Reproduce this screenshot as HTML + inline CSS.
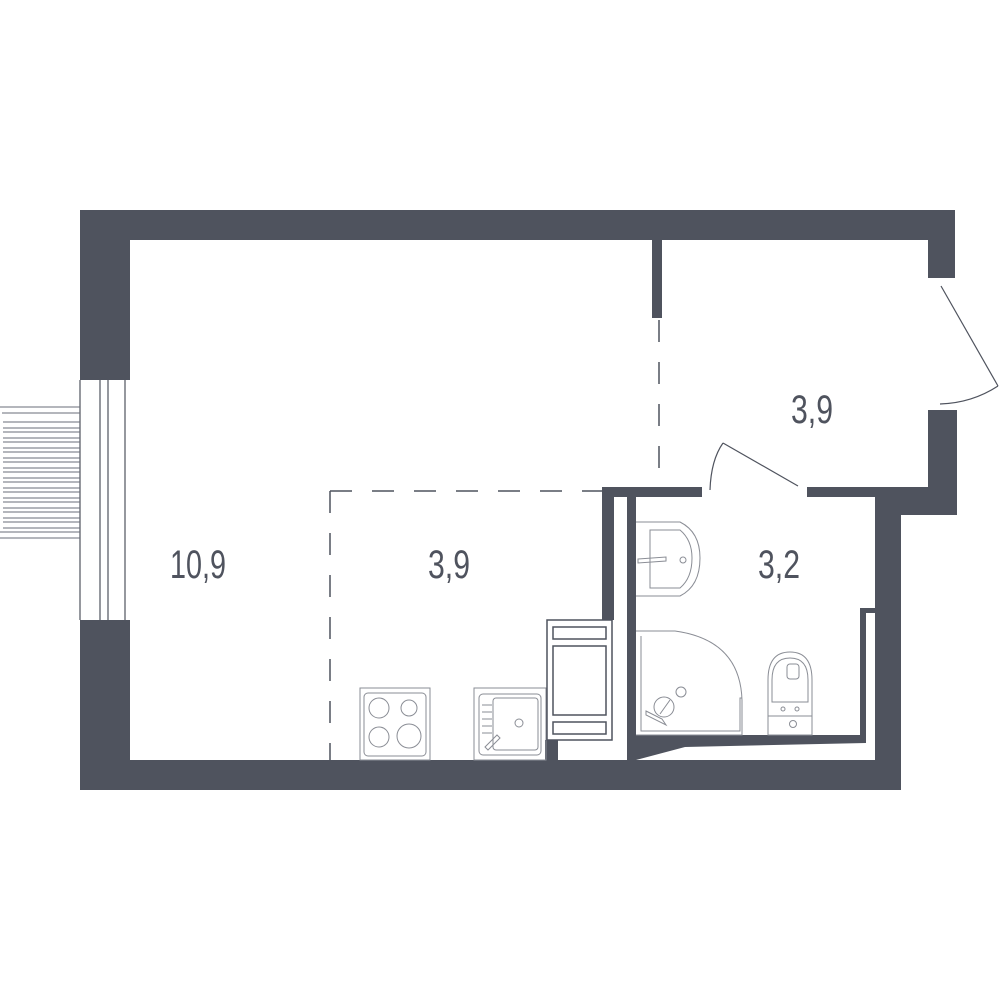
<!DOCTYPE html>
<html><head><meta charset="utf-8"><style>html,body{margin:0;padding:0;background:#fff}svg{display:block}</style></head>
<body>
<svg width="1000" height="1000" viewBox="0 0 1000 1000" xmlns="http://www.w3.org/2000/svg">
<g fill="#4f535e">
<rect x="80" y="210" width="875" height="30"/>
<rect x="80" y="210" width="50" height="170"/>
<rect x="80" y="620" width="50" height="170"/>
<rect x="80" y="760" width="821" height="30"/>
<rect x="928" y="210" width="27" height="68"/>
<rect x="928" y="410" width="29" height="105"/>
<rect x="875" y="487" width="82" height="28"/>
<rect x="875" y="487" width="26" height="303"/>
<rect x="652" y="240" width="10" height="78"/>
<rect x="602" y="487" width="100" height="10"/>
<rect x="807" y="487" width="68" height="10"/>
<rect x="602" y="487" width="12" height="133"/>
<rect x="627" y="497" width="9" height="263"/>
<rect x="860" y="608" width="15" height="5"/>
<rect x="860" y="608" width="6" height="135"/>
<rect x="545" y="740" width="13" height="20"/>
<polygon points="627,760 636,760 685,747 866,743 866,735 627,735"/>
</g>
<g fill="none" stroke="#4f535e" stroke-width="1.2">
<line x1="80" y1="380" x2="80" y2="620"/>
<line x1="100" y1="380" x2="100" y2="620"/>
<line x1="108" y1="380" x2="108" y2="620"/>
<line x1="125" y1="380" x2="125" y2="620"/>
</g>
<g fill="none" stroke="#6a6e78" stroke-width="1">
<path d="M80 407H0M80 413H2M80 422H3M80 428H3M80 432H3M80 438H3M80 442H3M80 448H3M80 452H3M80 458H3M80 462H3M80 468H3M80 472H3M80 478H3M80 482H3M80 488H3M80 492H3M80 498H3M80 502H3M80 508H3M80 512H3M80 518H3M80 522H3M80 528H3M80 532H0M80 538H0"/>
</g>
<g stroke="#4f535e" stroke-width="1.5" stroke-dasharray="22,20" fill="none">
<line x1="659" y1="320" x2="659" y2="480"/>
<line x1="330" y1="491" x2="602" y2="491"/>
<line x1="330" y1="491" x2="330" y2="760"/>
</g>
<g stroke="#4f535e" stroke-width="1.2" fill="none">
<line x1="941" y1="286" x2="998" y2="386"/>
<path d="M940 404 Q972 403 998 386"/>
<line x1="723" y1="443" x2="798" y2="486"/>
<path d="M723 443 Q711 460 710 490"/>
</g>
<g fill="none" stroke="#8a8d95" stroke-width="1">
<rect x="360" y="688" width="70" height="72"/>
<rect x="364" y="693" width="62" height="63" rx="4"/>
<circle cx="379" cy="708" r="10"/><circle cx="409" cy="708" r="8"/>
<circle cx="379" cy="737" r="10"/><circle cx="409" cy="736" r="12"/>
<rect x="474" y="688" width="72" height="72"/>
<rect x="479" y="694" width="62" height="61" rx="4"/>
<rect x="493" y="698" width="45" height="52" rx="3"/>
<circle cx="519" cy="723" r="4"/>
<path d="M482 705h10M482 712h10M482 719h10M482 726h10M482 733h10"/>
<path d="M485 747l12-12l3 3l-12 12z"/>
<path d="M636 522 H680 Q700 532 700 558 Q700 586 680 596 H636"/>
<path d="M650 530 H680 Q692 540 692 558 Q692 578 680 588 H650 Z"/>
<circle cx="683" cy="560" r="3"/>
<path d="M638 559 l28 -2 l0 4 l-28 2z"/>
<path d="M636 631 H675 Q740 640 742 700 V735 H636"/>
<path d="M641 636 V731 H740 V698 H742"/>
<circle cx="681" cy="692" r="5"/><circle cx="664" cy="707" r="10"/>
<path d="M646 711 l16 8 l4 6 l-20 -10z M660 714 l10 -14"/>
<path d="M768 735 V680 Q768 652 790 652 Q812 652 812 680 V735 Z"/>
<path d="M772 702 V680 Q772 658 790 658 Q808 658 808 680 V702 Z"/>
<rect x="787" y="664" width="12" height="15" rx="3"/>
<path d="M768 716 H812"/><circle cx="783" cy="709" r="2"/><circle cx="797" cy="709" r="2"/>
<circle cx="793" cy="724" r="3.5"/>
</g>
<g fill="#fff" stroke="#4f535e" stroke-width="1.5">
<rect x="547" y="620" width="65" height="120"/>
<rect x="553" y="627" width="53" height="12"/>
<rect x="553" y="646" width="53" height="69"/>
<rect x="553" y="722" width="53" height="12"/>
</g>
<g fill="#4f535e" font-family="'Liberation Sans', sans-serif" font-size="40" font-weight="300">
<text x="170" y="578" textLength="56" lengthAdjust="spacingAndGlyphs">10,9</text>
<text x="428" y="578" textLength="42" lengthAdjust="spacingAndGlyphs">3,9</text>
<text x="758" y="578" textLength="42" lengthAdjust="spacingAndGlyphs">3,2</text>
<text x="791" y="423" textLength="42" lengthAdjust="spacingAndGlyphs">3,9</text>
</g>
</svg>
</body></html>
